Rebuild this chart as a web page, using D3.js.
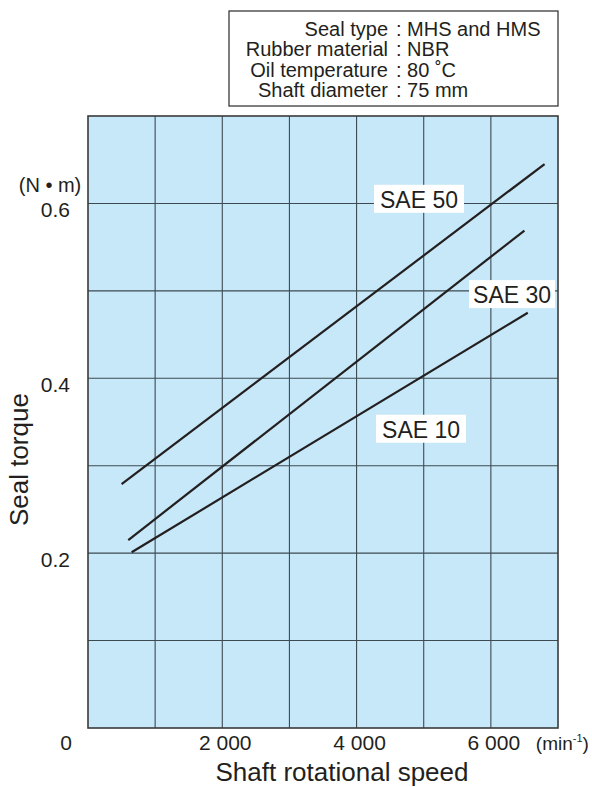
<!DOCTYPE html>
<html lang="en">
<head>
<meta charset="utf-8">
<title>Seal torque vs shaft rotational speed</title>
<script src="https://cdn.jsdelivr.net/npm/d3@7/dist/d3.min.js"></script>
<style>
  body { margin: 0; background: #fff; }
  svg text { font-family: "Liberation Sans", Arial, sans-serif; fill: #231f20; }
</style>
</head>
<body>
<div id="chart"></div>
<script>
// Data
var seriesNames = ["SAE 50", "SAE 30", "SAE 10"];
var speed = {            // shaft rotational speed, min^-1 (start, end)
  "SAE 50": [500, 6800],
  "SAE 30": [600, 6500],
  "SAE 10": [650, 6550]
};
var torque = {           // seal torque, N·m (start, end)
  "SAE 50": [0.279, 0.645],
  "SAE 30": [0.215, 0.569],
  "SAE 10": [0.201, 0.475]
};
var xTicks = [2000, 4000, 6000];
var yTicks = [0.2, 0.4, 0.6];
var infoKeys = ["Seal type", "Rubber material", "Oil temperature", "Shaft diameter"];
var infoVals = ["MHS and HMS", "NBR", "80 \u02daC", "75 mm"];

var width = 592, height = 787;
var margin = {top: 116, right: 34, bottom: 59, left: 88};
var w = width - margin.left - margin.right;
var h = height - margin.top - margin.bottom;

var svg = d3.select("#chart").append("svg")
  .attr("width", width)
  .attr("height", height);

var x = d3.scaleLinear().domain([0, 7000]).range([0, w]);
var y = d3.scaleLinear().domain([0, 0.7]).range([h, 0]);

var g = svg.append("g")
  .attr("transform", "translate(" + margin.left + "," + margin.top + ")");

// plot background
g.append("rect")
  .attr("width", w).attr("height", h)
  .attr("fill", "#c7e8f8");

// grid
g.selectAll(".vgrid").data(d3.range(1000, 7000, 1000)).enter()
  .append("line")
  .attr("x1", d => x(d)).attr("x2", d => x(d))
  .attr("y1", 0).attr("y2", h)
  .attr("stroke", "#3d4a52").attr("stroke-width", 1.1);

g.selectAll(".hgrid").data(d3.range(1, 7).map(d => d / 10)).enter()
  .append("line")
  .attr("x1", 0).attr("x2", w)
  .attr("y1", d => y(d)).attr("y2", d => y(d))
  .attr("stroke", "#3d4a52").attr("stroke-width", 1.1);

// frame
g.append("rect")
  .attr("width", w).attr("height", h)
  .attr("fill", "none")
  .attr("stroke", "#3a3a3a").attr("stroke-width", 1.6);

// series lines
var line = d3.line().x(d => x(d[0])).y(d => y(d[1]));
seriesNames.forEach(function(s) {
  var pts = speed[s].map((v, i) => [v, torque[s][i]]);
  g.append("path")
    .attr("d", line(pts))
    .attr("fill", "none")
    .attr("stroke", "#231f20")
    .attr("stroke-width", 2.2);
});

// series labels with white boxes (box left edge, text baseline)
var labelPos = {
  "SAE 50": [4260, 0.595],
  "SAE 30": [5675, 0.486],
  "SAE 10": [4290, 0.332]
};
seriesNames.forEach(function(s) {
  var lg = g.append("g")
    .attr("transform", "translate(" + x(labelPos[s][0]) + "," + y(labelPos[s][1]) + ")");
  var bw = s === "SAE 30" ? 86 : 90;
  lg.append("rect")
    .attr("x", 0).attr("y", -23)
    .attr("width", bw).attr("height", 28)
    .attr("fill", "#fff");
  lg.append("text")
    .attr("x", bw / 2).attr("y", 0)
    .attr("text-anchor", "middle")
    .attr("font-size", 23)
    .text(s);
});

// x tick labels
g.selectAll(".xt").data(xTicks).enter()
  .append("text")
  .attr("x", d => x(d) + 3).attr("y", h + 22)
  .attr("text-anchor", "middle")
  .attr("font-size", 21)
  .text(d => d3.format(",")(d).replace(",", " "));

g.append("text")
  .attr("x", -22).attr("y", h + 22)
  .attr("text-anchor", "middle")
  .attr("font-size", 21)
  .text("0");

var unitX = g.append("text")
  .attr("x", x(6000) + 45).attr("y", h + 22)
  .attr("font-size", 19);
unitX.append("tspan").text("(min");
unitX.append("tspan").attr("dy", -8).attr("font-size", 11).text("-1");
unitX.append("tspan").attr("dy", 8).text(")");

// y tick labels
g.selectAll(".yt").data(yTicks).enter()
  .append("text")
  .attr("x", -18).attr("y", d => y(d) + 14)
  .attr("text-anchor", "end")
  .attr("font-size", 21)
  .text(d => d.toFixed(1));

g.append("text")
  .attr("x", -38).attr("y", y(0.6) - 11)
  .attr("text-anchor", "middle")
  .attr("font-size", 20)
  .text("(N \u2022 m)");

// axis titles
svg.append("text")
  .attr("x", 342).attr("y", 781)
  .attr("text-anchor", "middle")
  .attr("font-size", 26)
  .text("Shaft rotational speed");

svg.append("text")
  .attr("transform", "translate(28," + (margin.top + y(0.307)) + ") rotate(-90)")
  .attr("text-anchor", "middle")
  .attr("font-size", 26)
  .text("Seal torque");

// condition box
var box = svg.append("g");
box.append("rect")
  .attr("x", 229).attr("y", 11)
  .attr("width", 329).attr("height", 95)
  .attr("fill", "#fff")
  .attr("stroke", "#3a3a3a").attr("stroke-width", 1.3);
infoKeys.forEach(function(k, i) {
  var by = 36 + i * 20.4;
  box.append("text")
    .attr("x", 388).attr("y", by)
    .attr("text-anchor", "end")
    .attr("font-size", 20)
    .text(k);
  box.append("text")
    .attr("x", 396).attr("y", by)
    .attr("font-size", 20)
    .text(": " + infoVals[i]);
});
</script>
</body>
</html>
